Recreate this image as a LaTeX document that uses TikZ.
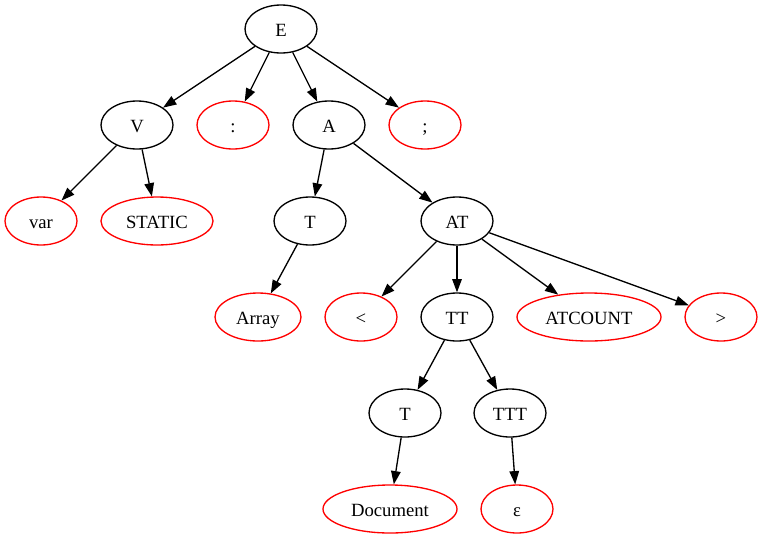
\documentclass[tikz,border=0pt]{standalone}
\usepackage{fontspec}
\setmainfont{Liberation Serif}
\usetikzlibrary{shapes.geometric,arrows.meta}

\tikzset{
  tnode/.style={ellipse, draw, line width=1.33pt, inner sep=0pt,
    minimum height=48pt, minimum width=72pt,
    text height=14pt, text depth=0pt,
    font=\fontsize{18.67pt}{22pt}\selectfont},
  nt/.style={tnode, draw=black},
  term/.style={tnode, draw=red},
  edge/.style={draw=black, line width=1.33pt,
    -{Triangle[length=13.3pt, width=9.6pt]}},
}

\begin{document}
\begin{tikzpicture}[x=1pt, y=-1pt]
  \useasboundingbox (0,0) rectangle (763,539);

  % nonterminals
  \node[nt] (E)   at (281,29)  {E};
  \node[nt] (V)   at (137,125) {V};
  \node[nt] (A)   at (329,125) {A};
  \node[nt] (T1)  at (310,221) {T};
  \node[nt] (AT)  at (457,221) {AT};
  \node[nt] (TT)  at (457,317) {TT};
  \node[nt] (T2)  at (405,413) {T};
  \node[nt] (TTT) at (510,413) {TTT};

  % terminals
  \node[term] (colon) at (233,125) {:};
  \node[term] (semi)  at (425,125) {;};
  \node[term] (var)   at (41,221)  {var};
  \node[term, minimum width=112pt] (static) at (157,221) {STATIC};
  \node[term, minimum width=86pt]  (array)  at (258,317) {Array};
  \node[term] (lt)    at (361,317) {<};
  \node[term, minimum width=144pt] (atcount) at (589,317) {ATCOUNT};
  \node[term] (gt)    at (721,317) {>};
  \node[term, minimum width=134pt] (doc) at (390,509) {Document};
  \node[term] (eps)   at (517,509) {ε};

  % edges
  \path[edge] (E) -- (V);
  \path[edge] (E) -- (colon);
  \path[edge] (E) -- (A);
  \path[edge] (E) -- (semi);
  \path[edge] (V) -- (var);
  \path[edge] (V) -- (static);
  \path[edge] (A) -- (T1);
  \path[edge] (A) -- (AT);
  \path[edge] (T1) -- (array);
  \path[edge] (AT) -- (lt);
  \path[edge] (AT) -- (TT);
  \path[edge] (AT) -- (atcount);
  \path[edge] (AT) -- (gt);
  \path[edge] (TT) -- (T2);
  \path[edge] (TT) -- (TTT);
  \path[edge] (T2) -- (doc);
  \path[edge] (TTT) -- (eps);
\end{tikzpicture}
\end{document}
